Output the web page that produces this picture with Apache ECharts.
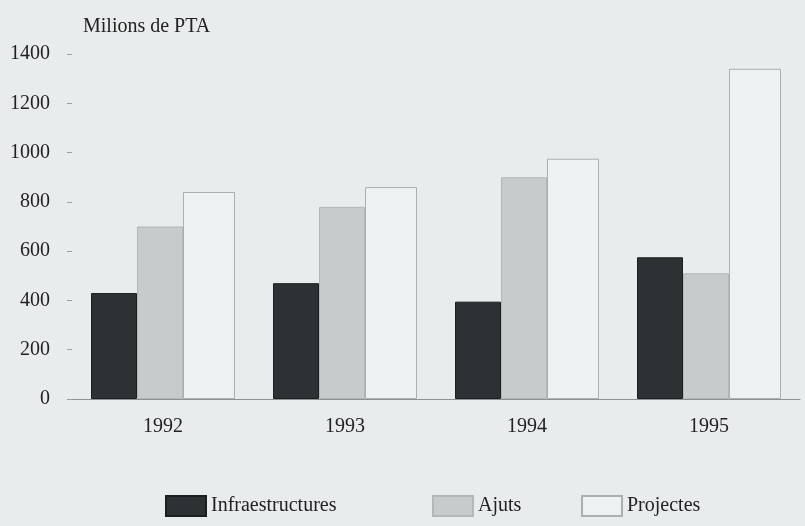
<!DOCTYPE html>
<html>
<head>
<meta charset="utf-8">
<script src="https://cdn.jsdelivr.net/npm/echarts@6/dist/echarts.min.js"></script>
<style>
  html, body { margin: 0; padding: 0; background: #e8eced; }
  #chart { width: 805px; height: 526px; }
</style>
</head>
<body>
<div id="chart"></div>
<script>
  // dades llegides del gràfic (milions de PTA)
  const years = ['1992', '1993', '1994', '1995']
  const infraestructures = [430, 470, 395, 575]
  const ajuts = [700, 780, 900, 510]
  const projectes = [840, 860, 975, 1340]
  const yTicks = [0, 200, 400, 600, 800, 1000, 1200, 1400]

  const font = '"Liberation Serif", "DejaVu Serif", serif'
  const chart = echarts.init(document.getElementById('chart'))

  const legendBase = {
    bottom: 4,
    itemWidth: 40,
    itemHeight: 20,
    icon: 'rect',
    textStyle: { fontFamily: font, fontSize: 20, color: '#222' }
  }

  chart.setOption({
    backgroundColor: '#e8eced',
    animation: false,
    title: {
      text: 'Milions de PTA',
      left: 78,
      top: 12,
      textStyle: { fontFamily: font, fontSize: 20, fontWeight: 'normal', color: '#222' }
    },
    legend: [
      Object.assign({}, legendBase, { left: 160, data: ['Infraestructures'] }),
      Object.assign({}, legendBase, { left: 427, data: ['Ajuts'] }),
      Object.assign({}, legendBase, { left: 576, data: ['Projectes'] })
    ],
    grid: { left: 72, right: 5, top: 54, bottom: 127 },
    xAxis: {
      type: 'category',
      data: years,
      axisLine: { lineStyle: { color: '#8c9294', width: 1 } },
      axisTick: { show: false },
      axisLabel: { fontFamily: font, fontSize: 20, color: '#222', margin: 18 }
    },
    yAxis: {
      type: 'value',
      min: yTicks[0],
      max: yTicks[yTicks.length - 1],
      interval: 200,
      axisLine: { show: false },
      axisTick: { show: true, length: 5, lineStyle: { color: '#9aa0a2' } },
      splitLine: { show: false },
      axisLabel: {
        fontFamily: font, fontSize: 20, color: '#222', margin: 22,
        formatter: v => String(v)
      }
    },
    series: [
      {
        name: 'Infraestructures',
        type: 'bar',
        data: infraestructures,
        barWidth: 46,
        barGap: '0%',
        itemStyle: { color: '#2d3133', borderColor: '#1c1f20', borderWidth: 1 }
      },
      {
        name: 'Ajuts',
        type: 'bar',
        data: ajuts,
        barWidth: 46,
        barGap: '0%',
        itemStyle: { color: '#c8cbcb', borderColor: '#b3b7b8', borderWidth: 1 }
      },
      {
        name: 'Projectes',
        type: 'bar',
        data: projectes,
        barWidth: 52,
        barGap: '0%',
        itemStyle: { color: '#eef1f1', borderColor: '#aab0b2', borderWidth: 1 }
      }
    ]
  })
</script>
</body>
</html>
